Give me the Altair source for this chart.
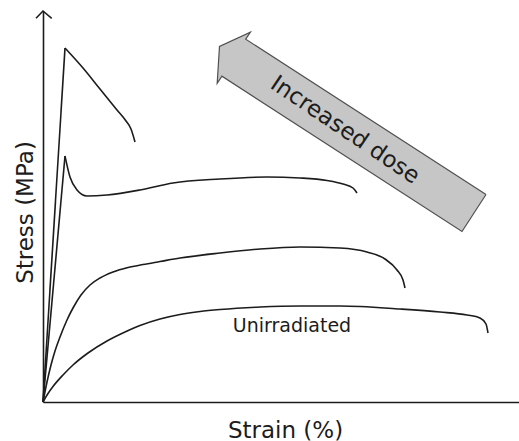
import altair as alt
import pandas as pd

# ---- data (strain, stress in arbitrary units) ----
# elastic (straight) loading parts of the two brittle curves
high_elastic_strain = [0, 22]
high_elastic_stress = [0, 354]
mid_elastic_strain = [0, 22]
mid_elastic_stress = [0, 246]

# plastic parts
high_strain = [22, 40, 57, 74, 83, 88, 92]
high_stress = [354, 334, 313, 292, 281, 273, 260]

mid_strain = [22, 27, 34, 44, 64, 97, 130, 177, 224, 257, 284, 300, 310, 314]
mid_stress = [246, 225, 212, 206, 207, 212, 219, 223, 225, 224, 221.5, 218, 214, 209]

low_strain = [0, 4, 8, 12, 17, 24, 30, 38, 47, 57, 70, 85, 100, 117, 137, 177, 217, 257, 297, 324, 342, 354, 360, 362]
low_stress = [0, 20, 37, 51, 65, 82, 94, 107, 117, 124, 130, 134.5, 137.5, 140.5, 144, 149, 153, 155, 154, 150, 143, 132, 122, 114]

unirr_strain = [0, 5, 10, 20, 30, 45, 64, 82, 97, 117, 137, 157, 177, 217, 257, 297, 357, 397, 424, 437, 443, 445]
unirr_stress = [0, 8.5, 15.5, 27, 37, 49, 61, 70, 76.5, 83, 87.5, 90.5, 92.5, 95, 96, 96, 93, 90, 87, 84, 78, 69]

# annotation arrow outline ("Increased dose")
arrow_x = [443, 202.7, 207.4, 176.5, 174.2, 178.9, 419, 443]
arrow_y = [207.5, 362.8, 369.9, 355.5, 318.7, 325.8, 170.5, 207.5]

# y-axis arrow head
yhead_x = [-7, 0, 8.7]
yhead_y = [383.7, 391, 383.7]

labels_text = ["Unirradiated"]
labels_x = [249]
labels_y = [70]

dose_text = ["Increased dose"]
dose_x = [302]
dose_y = [272]

X_MAX = 476
Y_MAX = 391
FONT = "DejaVu Sans"
INK = "#1c1c1c"


def frame(name, xs, ys):
    return pd.DataFrame({"series": name, "strain": xs, "stress": ys, "i": range(len(xs))})


elastic_df = pd.concat([
    frame("Highest dose", high_elastic_strain, high_elastic_stress),
    frame("Medium dose", mid_elastic_strain, mid_elastic_stress),
])
plastic_df = pd.concat([
    frame("Highest dose", high_strain, high_stress),
    frame("Medium dose", mid_strain, mid_stress),
    frame("Low dose", low_strain, low_stress),
    frame("Unirradiated", unirr_strain, unirr_stress),
])
arrow_df = frame("arrow", arrow_x, arrow_y)
yhead_df = frame("yhead", yhead_x, yhead_y)
label_df = pd.DataFrame({"strain": labels_x, "stress": labels_y, "text": labels_text})
dose_df = pd.DataFrame({"strain": dose_x, "stress": dose_y, "text": dose_text})

xenc = alt.X(
    "strain:Q",
    scale=alt.Scale(domain=[0, X_MAX], nice=False, zero=False),
    axis=alt.Axis(
        title="Strain (%)", ticks=False, labels=False, grid=False,
        domainColor=INK, domainWidth=1.6,
        titleFont=FONT, titleFontSize=23, titleFontWeight="normal", titleColor=INK,
        titleX=242, titleY=35, titleBaseline="alphabetic", titleAlign="center",
    ),
)
yenc = alt.Y(
    "stress:Q",
    scale=alt.Scale(domain=[0, Y_MAX], nice=False, zero=False),
    axis=alt.Axis(
        title="Stress (MPa)", ticks=False, labels=False, grid=False,
        domainColor=INK, domainWidth=1.6,
        titleFont=FONT, titleFontSize=23, titleFontWeight="normal", titleColor=INK,
        titleX=-11, titleY=201, titleAngle=270, titleBaseline="alphabetic", titleAlign="center",
    ),
)

elastic = alt.Chart(elastic_df).mark_line(
    color=INK, strokeWidth=1.6, interpolate="linear"
).encode(x=xenc, y=yenc, detail="series:N", order="i:Q")

plastic = alt.Chart(plastic_df).mark_line(
    color=INK, strokeWidth=1.6, interpolate="monotone"
).encode(x=xenc, y=yenc, detail="series:N", order="i:Q")

arrow = alt.Chart(arrow_df).mark_line(
    fill="#c6c6c6", stroke="#505050", strokeWidth=1.2, strokeJoin="miter", interpolate="linear"
).encode(x=xenc, y=yenc, order="i:Q")

yhead = alt.Chart(yhead_df).mark_line(
    color=INK, strokeWidth=1.6, interpolate="linear"
).encode(x=xenc, y=yenc, order="i:Q")

label = alt.Chart(label_df).mark_text(
    font=FONT, fontSize=19, color=INK, align="center", baseline="alphabetic"
).encode(x=xenc, y=yenc, text="text:N")

dose = alt.Chart(dose_df).mark_text(
    font=FONT, fontSize=23, color=INK, align="center", baseline="middle", angle=34
).encode(x=xenc, y=yenc, text="text:N")

chart = alt.layer(arrow, elastic, plastic, yhead, label, dose).properties(
    width=X_MAX, height=Y_MAX,
    padding={"left": 43, "top": 11, "right": 0, "bottom": 39},
    autosize=alt.AutoSizeParams(type="none"),
    background="white",
).configure_view(stroke=None)

chart.save("out.html", embed_options={"renderer": "svg", "actions": False})
